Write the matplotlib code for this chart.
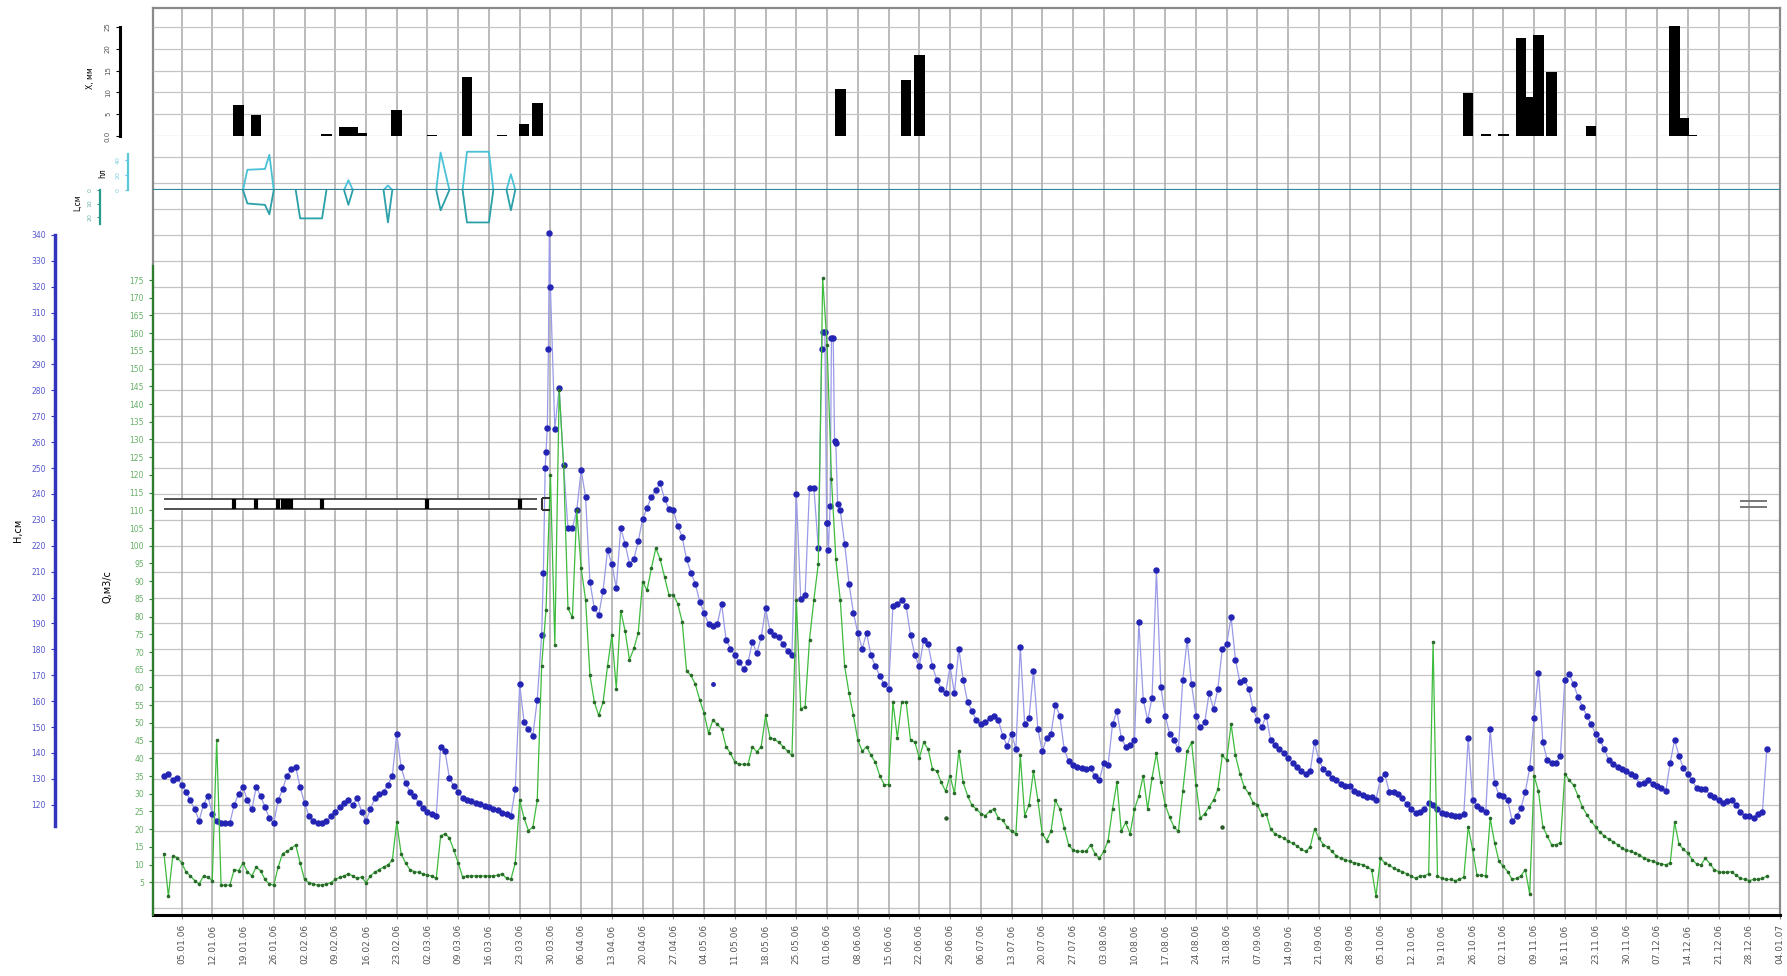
import matplotlib
matplotlib.use("Agg")
import matplotlib.pyplot as plt
import matplotlib.dates as mdates
import numpy as np
import pandas as pd

W, HP = 1787, 976

# daily water level H, cm (01.01.06 .. 01.01.07)
h_cm = [
    131.1, 132, 129.4, 130.3, 127.7, 125.1, 121.7, 118.2, 113.9, 120,
    123.4, 116.5, 113.9, 113, 113, 113, 120, 124.2, 126.8, 121.7,
    118.2, 126.8, 123.4, 119.1, 114.8, 113, 121.7, 126, 131.1, 133.7,
    134.6, 126.8, 120.8, 115.6, 113.9, 113, 113, 113.9, 115.6, 117.4,
    119.1, 120.8, 121.7, 120, 122.5, 117.4, 113.9, 118.2, 122.5, 124.2,
    125.1, 127.7, 131.1, 147.5, 134.6, 128.6, 125.1, 123.4, 120.8, 118.6,
    117.4, 116.5, 115.6, 142.4, 140.6, 130.3, 127.2, 125.1, 122.5, 121.7,
    121.3, 120.8, 120.3, 119.6, 119.1, 118.2, 117.9, 116.8, 116.5, 115.6,
    126, 166.5, 151.8, 149.3, 146.7, 160.5, 185.5, 256, 320, 265,
    281, 251, 226.8, 226.8, 233.7, 249.2, 238.9, 206.1, 195.8, 193.2,
    202.7, 218.2, 213, 203.6, 226.8, 220.8, 213, 214.8, 221.7, 230.3,
    234.6, 238.9, 241.5, 244.1, 238, 234.1, 233.7, 227.7, 223.4, 214.8,
    209.6, 205.3, 198.4, 194.1, 189.8, 188.9, 189.8, 197.5, 183.7, 180.3,
    177.7, 175.1, 172.5, 175.1, 182.9, 178.6, 184.6, 195.8, 187.2, 185.5,
    184.6, 182, 179.4, 177.7, 240, 199.3, 201, 242.4, 242.4, 219.1,
    302.7, 228.6, 300.1, 259.6, 233.7, 220.8, 205.3, 194.1, 186.3, 180.3,
    186.3, 177.7, 173.4, 169.9, 166.5, 164.8, 196.7, 197.5, 199.2, 196.7,
    185.5, 177.7, 173.4, 183.7, 182, 173.4, 168.2, 164.8, 163.1, 173.4,
    163.1, 180.3, 168.2, 159.6, 156.2, 152.7, 151, 151.8, 153.6, 154.4,
    152.7, 146.7, 142.7, 147.5, 141.5, 181.1, 151, 153.6, 171.7, 149.3,
    140.6, 145.8, 147.5, 158.7, 154.4, 141.5, 136.8, 135.5, 134.6, 134.1,
    133.7, 134.1, 131.1, 129.4, 136.3, 135.5, 151, 156.1, 145.8, 142.4,
    143.2, 145, 190.6, 160.5, 152.7, 161.3, 210.5, 165.6, 154.4, 147.5,
    145, 141.5, 168.2, 183.7, 166.5, 154.4, 150.1, 151.8, 163.1, 157,
    164.8, 180.3, 182, 192.4, 176, 167.4, 168.2, 164.8, 157, 152.7,
    150.1, 154.4, 145, 143.2, 141.5, 139.8, 138, 136.3, 134.6, 132.9,
    132, 132.9, 144.1, 137.2, 133.7, 132.3, 130.3, 129.4, 128.2, 127.2,
    127.2, 125.4, 124.6, 123.7, 123, 123, 122, 130, 132, 125,
    125.1, 124.2, 122.5, 120.3, 118.2, 116.8, 117.4, 118.2, 120.8, 120,
    118.2, 116.8, 116.5, 116.1, 115.6, 115.6, 116.5, 145.8, 121.7, 119.6,
    118.2, 117.4, 149.3, 128.6, 123.7, 123.4, 121.7, 113.9, 115.6, 118.6,
    125.1, 134.1, 153.6, 170.8, 144.1, 137.2, 136.3, 136.3, 138.9, 168.2,
    170.3, 166.5, 161.7, 157.9, 154.4, 151, 147.5, 145, 141.5, 137.2,
    135.8, 134.6, 133.7, 132.9, 132, 131.1, 128.2, 128.6, 129.4, 128.2,
    127.2, 126.5, 125.4, 136.3, 145, 138.9, 134.1, 131.7, 129.4, 126.5,
    126, 126, 123.9, 123, 121.7, 120.8, 121.3, 121.7, 120, 117.4,
    115.6, 115.6, 114.8, 116.5, 117.4, 141.5,
]

# extra (sub-daily) level readings during floods: day offset from 01.01.06, H cm
h_extra_day = [86.4, 86.8, 87.3, 87.55, 87.75, 149.8, 150.5, 150.9, 151.3, 151.7,
               152.4, 152.7, 153.4]
h_extra = [209.6, 250, 265.6, 295.8, 340.6, 295.8, 302.7, 228.6, 218.2, 235.5,
           300.1, 260.5, 236.3]

# daily discharge Q, m3/s
q_m3s = [
    13.1, 1.1, 12.4, 12, 10.5, 8, 6.8, 5.5, 4.5, 6.8,
    6.4, 5.5, 45.2, 4.2, 4.2, 4.2, 8.6, 8.3, 10.5, 8,
    6.8, 9.3, 8.3, 5.8, 4.5, 4.2, 9.3, 13.1, 13.7, 14.6,
    15.6, 10.5, 5.8, 4.9, 4.5, 4.2, 4.2, 4.5, 4.9, 5.8,
    6.4, 6.8, 7.4, 6.8, 6.1, 6.5, 4.9, 6.8, 7.8, 8.6,
    9.3, 9.9, 11.2, 21.9, 13.1, 10.5, 8.6, 8, 7.8, 7.4,
    7, 6.8, 6.1, 18.1, 18.7, 17.5, 14.1, 10.5, 6.5, 6.8,
    6.8, 6.8, 6.8, 6.8, 6.8, 6.8, 7, 7.4, 6.1, 5.8,
    10.5, 28.2, 23.1, 19.6, 20.6, 28.2, 66, 82, 120, 72,
    144, 122.6, 82.3, 79.8, 110, 93.7, 84.8, 63.4, 55.9, 52.1,
    55.9, 66, 74.8, 59.7, 81.7, 76, 67.8, 71, 75.4, 89.9,
    87.4, 93.7, 99.3, 96.2, 91.1, 86.1, 86.1, 83.6, 78.6, 64.7,
    63.4, 60.9, 56.5, 52.7, 47.1, 50.8, 49.6, 48.3, 43.3, 41.4,
    38.9, 38.3, 38.3, 38.3, 43.3, 41.8, 43.3, 52.1, 45.8, 45.4,
    44.5, 43.3, 42, 40.8, 84.8, 54, 54.6, 73.5, 84.8, 94.9,
    175.5, 156.6, 118.9, 96.2, 84.8, 66, 58.4, 52.1, 45.2, 42,
    43.3, 40.8, 38.9, 35.1, 32.6, 32.6, 55.9, 45.8, 55.9, 55.9,
    45.2, 44.5, 40.1, 44.5, 42.6, 37, 36.4, 33.2, 30.7, 35.1,
    30.1, 42, 33.2, 29.4, 26.7, 25.7, 24.4, 23.8, 25, 25.7,
    23.1, 22.5, 20.6, 19.4, 18.7, 40.8, 23.8, 26.9, 36.4, 28.2,
    18.7, 16.8, 19.4, 28.2, 25.7, 20.4, 15.6, 14.1, 13.7, 13.7,
    13.7, 15.6, 13.1, 11.8, 13.7, 16.8, 25.7, 33.2, 19.4, 21.9,
    18.7, 25.7, 29.4, 35.1, 25.7, 34.5, 41.4, 33.2, 26.9, 23.4,
    20.6, 19.4, 30.7, 42, 44.5, 32.6, 23.1, 24.4, 26.3, 28.2,
    31.3, 40.8, 39.5, 49.6, 40.8, 35.7, 31.9, 30.1, 27.5, 26.9,
    24.1, 24.4, 20, 18.7, 18.1, 17.5, 16.6, 16, 15.3, 14.3,
    13.7, 15, 20, 17.5, 15.6, 15, 13.7, 12.4, 11.8, 11.4,
    10.9, 10.5, 10.3, 9.9, 9.3, 8.6, 1.1, 11.8, 10.5, 9.9,
    9, 8.4, 8, 7.4, 6.8, 6.1, 6.8, 6.8, 7.4, 72.9,
    6.8, 6.1, 5.8, 5.8, 5.5, 5.8, 6.5, 20.6, 14.3, 7,
    7, 6.8, 23.1, 16.2, 10.9, 9.5, 8, 5.8, 6.1, 6.8,
    8.6, 1.7, 35.1, 30.7, 20.6, 18.1, 15.6, 15.6, 16.2, 35.7,
    33.8, 32.4, 29.4, 26.3, 24.1, 22.3, 20.6, 19.1, 18.1, 17.1,
    16.5, 15.6, 14.7, 14.1, 13.7, 13.3, 12.8, 11.8, 11.4, 11,
    10.5, 10.2, 9.9, 10.5, 21.9, 15.8, 14.3, 13.3, 11.4, 10.2,
    9.9, 11.8, 10.3, 8.6, 8, 7.8, 7.8, 8, 7, 6.1,
    5.8, 5.5, 5.8, 5.8, 6.1, 6.8,
]

# isolated measured points
h_single_dates = ["2006-05-06"]
h_single = [166.5]
q_single_dates = ["2006-06-28", "2006-08-30"]
q_single = [23.1, 20.6]

# precipitation X, mm
rain_dates = ["2006-01-18", "2006-01-22", "2006-02-07", "2006-02-11", "2006-02-13",
              "2006-02-15", "2006-02-23", "2006-03-03", "2006-03-11", "2006-03-19",
              "2006-03-24", "2006-03-27", "2006-06-04", "2006-06-19", "2006-06-22",
              "2006-10-25", "2006-10-29", "2006-11-02", "2006-11-08", "2006-11-06",
              "2006-11-10", "2006-11-13", "2006-11-22", "2006-12-11", "2006-12-13",
              "2006-12-15"]
rain_mm = [7.1, 4.8, 0.5, 2.0, 2.0, 0.7, 5.9, 0.3, 13.6, 0.3, 2.8, 7.5,
           10.7, 12.8, 18.6, 9.8, 0.5, 0.5, 9.0, 22.4, 23.2, 14.7, 2.3,
           25.2, 4.1, 0.2]

# ice thickness hл (up) and L (down) outlines, nan breaks the outline
ice_dates = ["2006-01-19", "2006-01-20", "2006-01-24", "2006-01-25", "2006-01-26", "2006-01-27",
             "2006-01-31", "2006-02-01", "2006-02-06", "2006-02-07", "2006-02-08",
             "2006-02-11", "2006-02-12", "2006-02-13", "2006-02-14",
             "2006-02-20", "2006-02-21", "2006-02-22", "2006-02-23",
             "2006-03-04", "2006-03-05", "2006-03-07", "2006-03-08",
             "2006-03-10", "2006-03-11", "2006-03-16", "2006-03-17", "2006-03-18",
             "2006-03-20", "2006-03-21", "2006-03-22"]
ice_hl = [0, 27, 28, 47, 0, np.nan,
          0, 0, 0, 0, np.nan,
          0, 13, 0, np.nan,
          0, 6, 0, np.nan,
          0, 50, 0, np.nan,
          0, 51, 51, 0, np.nan,
          0, 21, 0]
ice_l = [0, 10, 11, 18, 0, np.nan,
         0, 21, 21, 0, np.nan,
         0, 11, 0, np.nan,
         0, 24, 0, np.nan,
         0, 15, 0, np.nan,
         0, 24, 24, 0, np.nan,
         0, 15, 0]

# ice phenomena strip
strip_dates = ["2006-01-01", "2006-03-27"]
strip_marks = ["2006-01-17", "2006-01-22", "2006-01-27", "2006-01-28", "2006-01-29",
               "2006-01-30", "2006-02-06", "2006-03-02", "2006-03-23"]
shore_ice = ["2006-12-26", "2007-01-01"]

fig = plt.figure(figsize=(W / 100, HP / 100), dpi=100)


def box(x0, y0, x1, y1):
    return [x0 / W, 1 - y1 / HP, (x1 - x0) / W, (y1 - y0) / HP]


def pt(px):
    return px * 72 / 100


day0 = pd.Timestamp("2006-01-01")
dates = pd.date_range(day0, periods=len(h_cm), freq="D")
h_t = list(dates) + [day0 + pd.Timedelta(days=d) for d in h_extra_day]
h_v = list(h_cm) + list(h_extra)
order = np.argsort(np.array(h_t, dtype="datetime64[ns]"))
h_t = [h_t[k] for k in order]
h_v = [h_v[k] for k in order]

xlim = (mdates.date2num(pd.Timestamp("2005-12-29 12:00")),
        mdates.date2num(pd.Timestamp("2007-01-04 00:00")))
weeks = pd.date_range("2006-01-05", "2007-01-04", freq="7D")

# main frame / water level axes
ax = fig.add_axes(box(153, 8, 1780, 915))
ax.set_xlim(xlim)
ax.set_ylim(77.45, 427.6)
ax.set_xticks(weeks)
ax.xaxis.set_major_formatter(mdates.DateFormatter("%d.%m.%y"))
ax.tick_params(axis="x", rotation=90, labelsize=6.5, labelcolor="#555555", length=3, color="#888888")
ax.grid(axis="x", color="#a8a8a8", lw=1.1)
ax.hlines(np.arange(80, 371, 10), xlim[0], xlim[1], color="#c4c4c4", lw=0.9, zorder=0)
for s in ["top", "right"]:
    ax.spines[s].set_color("#8a8a8a")
    ax.spines[s].set_linewidth(1.6)
ax.spines["bottom"].set_linewidth(2.2)
ax.spines["left"].set_position(("outward", pt(98)))
ax.spines["left"].set_bounds(112, 340)
ax.spines["left"].set_color("#3333bb")
ax.spines["left"].set_linewidth(2.5)
ax.set_yticks(np.arange(120, 341, 10))
ax.tick_params(axis="y", labelsize=5.5, labelcolor="#5555cc", color="#3333bb", length=3)
ax.plot([0, 0], [0, 1], transform=ax.transAxes, color="#8a8a8a", lw=1.6, clip_on=False)
ax.text(18 / W, 1 - 530 / HP, "H,см", transform=fig.transFigure, rotation=90,
        ha="center", va="center", fontsize=7)

ax.plot(h_t, h_v, color="#9a9ae8", lw=0.9, zorder=3)
ax.plot(h_t, h_v, "o", ms=3.6, color="#2424b4", zorder=4)
ax.plot(pd.to_datetime(h_single_dates), h_single, "o", ms=2.5, color="#2424b4", zorder=4)

# discharge axes
axq = ax.twinx()
axq.set_xlim(xlim)
axq.set_ylim(-4.23, 251.8)
for s in ["top", "right", "bottom"]:
    axq.spines[s].set_visible(False)
axq.spines["left"].set_visible(True)
axq.spines["left"].set_position(("axes", 0))
axq.spines["left"].set_bounds(-4.2, 179)
axq.spines["left"].set_color("#2e7d2e")
axq.spines["left"].set_linewidth(1.6)
axq.yaxis.set_ticks_position("left")
axq.yaxis.set_label_position("left")
axq.set_yticks(np.arange(5, 176, 5))
axq.tick_params(axis="y", labelsize=5.5, labelcolor="#66b066", color="#2e7d2e", length=3)
axq.text(107 / W, 1 - 587 / HP, "Q,м3/с", transform=fig.transFigure, rotation=90,
         ha="center", va="center", fontsize=7)
axq.plot(dates, q_m3s, color="#3dbb3d", lw=0.9, marker="o", ms=1.6,
         mfc="#2a6a2a", mec="#2a6a2a", zorder=3)
axq.plot(pd.to_datetime(q_single_dates), q_single, "o", ms=2.2, color="#2a5a2a", zorder=3)

# precipitation axes
ar = fig.add_axes(box(153, 8, 1780, 136))
ar.patch.set_visible(False)
ar.set_xlim(xlim)
ar.set_ylim(0, 29.36)
for s in ["top", "right", "bottom"]:
    ar.spines[s].set_visible(False)
ar.spines["left"].set_position(("outward", pt(33)))
ar.spines["left"].set_bounds(0, 25)
ar.spines["left"].set_linewidth(2.2)
ar.set_xticks([])
ar.set_yticks(np.arange(0, 26, 5))
ar.set_yticklabels(["0.0", "5", "10", "15", "20", "25"], rotation=90, va="center")
ar.tick_params(axis="y", labelsize=5, labelcolor="#555555", length=3)
ar.hlines(np.arange(0, 26, 5), xlim[0], xlim[1], color="#c4c4c4", lw=0.9, zorder=0)
ar.bar(pd.to_datetime(rain_dates), rain_mm, width=2.4, color="black", zorder=3)
ar.text(90 / W, 1 - 78 / HP, "Х, мм", transform=fig.transFigure, rotation=90,
        ha="center", va="center", fontsize=5.5)

# ice thickness hл
ai = fig.add_axes(box(153, 136, 1780, 190))
ai.patch.set_visible(False)
ai.set_xlim(xlim)
ai.set_ylim(0, 72)
for s in ["top", "right", "bottom"]:
    ai.spines[s].set_visible(False)
ai.spines["left"].set_position(("outward", pt(25)))
ai.spines["left"].set_bounds(0, 48)
ai.spines["left"].set_color("#5cc8dc")
ai.spines["left"].set_linewidth(1.6)
ai.set_xticks([])
ai.set_yticks([0, 20, 40])
ai.set_yticklabels(["0", "20", "40"], rotation=90, va="center")
ai.tick_params(axis="y", labelsize=4.5, labelcolor="#7fcfdf", color="#5cc8dc", length=2)
ai.plot(pd.to_datetime(ice_dates), ice_hl, color="#49c1d6", lw=1.3)
ai.axhline(0, color="#2f8aa0", lw=1.6)
ai.text(103 / W, 1 - 173 / HP, "hл", transform=fig.transFigure, rotation=90,
        ha="center", va="center", fontsize=5.5)

# L
al = fig.add_axes(box(153, 190, 1780, 240))
al.patch.set_visible(False)
al.set_xlim(xlim)
al.set_ylim(37, 0)
for s in ["top", "right", "bottom"]:
    al.spines[s].set_visible(False)
al.spines["left"].set_position(("outward", pt(53)))
al.spines["left"].set_bounds(0, 25)
al.spines["left"].set_color("#2a9a8a")
al.spines["left"].set_linewidth(1.6)
al.set_xticks([])
al.set_yticks([0, 10, 20])
al.set_yticklabels(["0", "10", "20"], rotation=90, va="center")
al.tick_params(axis="y", labelsize=4.5, labelcolor="#70b0a8", color="#2a9a8a", length=2)
al.plot(pd.to_datetime(ice_dates), ice_l, color="#2aa0a8", lw=1.3)
al.text(78 / W, 1 - 203 / HP, "L,см", transform=fig.transFigure, rotation=90,
        ha="center", va="center", fontsize=5.5)

# ice phenomena strip
ast = fig.add_axes(box(153, 496, 1780, 512))
ast.patch.set_visible(False)
ast.set_xlim(xlim)
ast.set_ylim(0, 1)
ast.axis("off")
s0, s1 = pd.to_datetime(strip_dates)
ast.fill_between([s0, s1], 0.2, 0.8, color="white", zorder=1)
ast.hlines([0.2, 0.8], s0, s1, color="#333333", lw=1.2, zorder=2)
ast.vlines(pd.to_datetime(strip_marks), 0.2, 0.8, color="black", lw=3, zorder=3)
ast.vlines([s1 + pd.Timedelta(days=1)], 0.15, 0.85, color="#333333", lw=1.5)
ast.hlines([0.15, 0.85], s1 + pd.Timedelta(days=1), s1 + pd.Timedelta(days=3),
           color="#333333", lw=1.5)
e0, e1 = pd.to_datetime(shore_ice)
ast.hlines([0.3, 0.7], e0, e1, color="#777777", lw=1.4)

fig.savefig("out.png", dpi=100)
